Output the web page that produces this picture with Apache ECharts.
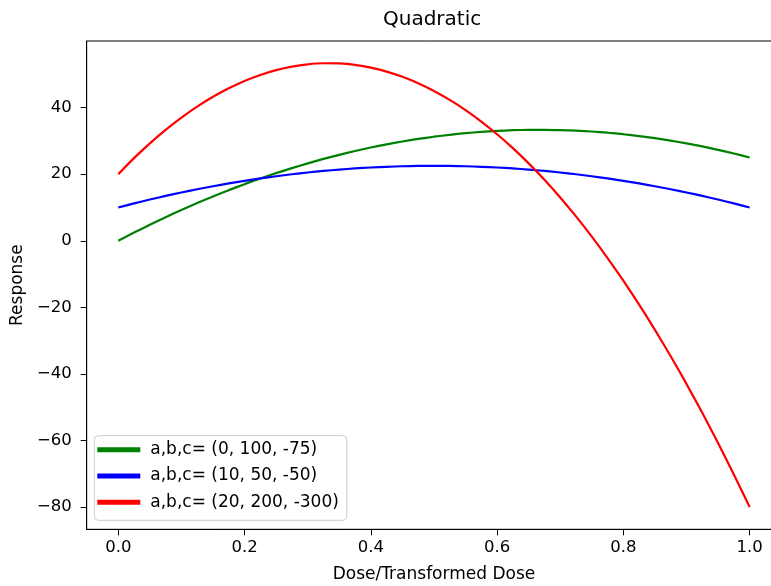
<!DOCTYPE html>
<html>
<head>
<meta charset="utf-8">
<script src="https://cdn.jsdelivr.net/npm/echarts@6/dist/echarts.min.js"></script>
<style>
html,body{margin:0;padding:0;background:#fff;}
#c{width:771px;height:586px;}
</style>
</head>
<body>
<div id="c"></div>
<script>
// Data
var doses = [0, 0.025, 0.05, 0.075, 0.1, 0.125, 0.15, 0.175, 0.2, 0.225, 0.25, 0.275, 0.3, 0.325, 0.35, 0.375, 0.4, 0.425, 0.45, 0.475, 0.5,
  0.525, 0.55, 0.575, 0.6, 0.625, 0.65, 0.675, 0.7, 0.725, 0.75, 0.775, 0.8, 0.825, 0.85, 0.875, 0.9, 0.925, 0.95, 0.975, 1.0];
var greenVals = [0, 2.45, 4.81, 7.08, 9.25, 11.33, 13.31, 15.20, 17, 18.70, 20.31, 21.83, 23.25, 24.58, 25.81, 26.95, 28, 28.95, 29.81, 30.58, 31.25,
  31.83, 32.31, 32.70, 33, 33.20, 33.31, 33.33, 33.25, 33.08, 32.81, 32.45, 32, 31.45, 30.81, 30.08, 29.25, 28.33, 27.31, 26.20, 25];
var blueVals = [10, 11.22, 12.38, 13.47, 14.5, 15.47, 16.38, 17.22, 18, 18.72, 19.38, 19.97, 20.5, 20.97, 21.38, 21.72, 22, 22.22, 22.38, 22.47, 22.5,
  22.47, 22.38, 22.22, 22, 21.72, 21.38, 20.97, 20.5, 19.97, 19.38, 18.72, 18, 17.22, 16.38, 15.47, 14.5, 13.47, 12.38, 11.22, 10];
var redVals = [20, 24.81, 29.25, 33.31, 37, 40.31, 43.25, 45.81, 48, 49.81, 51.25, 52.31, 53, 53.31, 53.25, 52.81, 52, 50.81, 49.25, 47.31, 45,
  42.31, 39.25, 35.81, 32, 27.81, 23.25, 18.31, 13, 7.31, 1.25, -5.19, -12, -19.19, -26.75, -34.69, -43, -51.69, -60.75, -70.19, -80];
var seriesNames = ['a,b,c= (0, 100, -75)', 'a,b,c= (10, 50, -50)', 'a,b,c= (20, 200, -300)'];
var xTicks = [0, 0.2, 0.4, 0.6, 0.8, 1.0];
var yTicks = [-80, -60, -40, -20, 0, 20, 40];

function pairs(xs, ys) { return xs.map(function (x, i) { return [x, ys[i]]; }); }

var FONT = 'DejaVu Sans';
var chart = echarts.init(document.getElementById('c'), null, { renderer: 'canvas' });
function mkSeries(name, vals, color) {
  return {
    name: name, type: 'line', data: pairs(doses, vals), smooth: 0.2, showSymbol: false,
    lineStyle: { color: color, width: 2.2 }, itemStyle: { color: color }, animation: false
  };
}
chart.setOption({
  animation: false,
  backgroundColor: '#fff',
  title: {
    text: 'Quadratic', left: 383, top: 10, padding: 0,
    textStyle: { fontFamily: FONT, fontSize: 20, fontWeight: 'normal', color: '#000' }
  },
  grid: { left: 86.7, top: 41, width: 694.5, height: 488.3, outerBoundsMode: 'none', containLabel: false,
    show: true, borderColor: '#000', borderWidth: 1, backgroundColor: 'transparent' },
  legend: {
    orient: 'vertical', left: 94.3, top: 435.7,
    padding: [4, 8, 8, 3], itemGap: 6.3, itemWidth: 43, itemHeight: 5, icon: 'rect',
    borderColor: '#cccccc', borderWidth: 1, borderRadius: 4, backgroundColor: 'rgba(255,255,255,0.8)',
    textStyle: { fontFamily: FONT, fontSize: 17, color: '#000', lineHeight: 20, padding: [0, 0, 0, 5] },
    data: seriesNames
  },
  xAxis: {
    type: 'value', min: -0.05, max: 1.05,
    name: 'Dose/Transformed Dose', nameLocation: 'middle', nameGap: 37,
    nameTextStyle: { fontFamily: FONT, fontSize: 17, color: '#000' },
    axisLine: { show: true, onZero: false, lineStyle: { color: '#000', width: 1 } },
    axisTick: { show: true, inside: false, length: 6, customValues: xTicks, lineStyle: { color: '#000' } },
    axisLabel: { customValues: xTicks, margin: 10, fontFamily: FONT, fontSize: 16.5, color: '#000',
      formatter: function (v) { return v.toFixed(1); } },
    splitLine: { show: false }
  },
  yAxis: {
    type: 'value', min: -86.67, max: 60,
    name: 'Response', nameLocation: 'middle', nameRotate: 90, nameGap: 52,
    nameTextStyle: { fontFamily: FONT, fontSize: 17, color: '#000' },
    axisLine: { show: true, onZero: false, lineStyle: { color: '#000', width: 1 } },
    axisTick: { show: true, inside: false, length: 6, customValues: yTicks, lineStyle: { color: '#000' } },
    axisLabel: { customValues: yTicks, margin: 15, fontFamily: FONT, fontSize: 16.5, color: '#000',
      formatter: function (v) { return String(v).replace('-', '\u2212'); } },
    splitLine: { show: false }
  },
  series: [
    mkSeries(seriesNames[0], greenVals, '#008000'),
    mkSeries(seriesNames[1], blueVals, '#0000ff'),
    mkSeries(seriesNames[2], redVals, '#ff0000')
  ]
});
</script>
</body>
</html>
